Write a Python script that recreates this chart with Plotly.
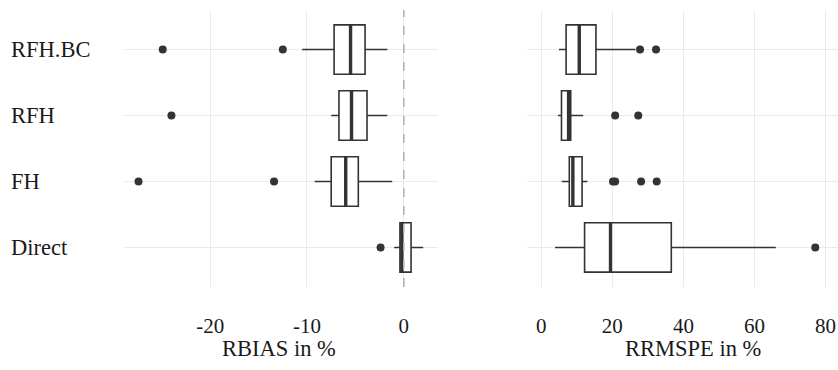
import plotly.graph_objects as go

methods = ["Direct", "FH", "RFH", "RFH.BC"]
positions = [1, 2, 3, 4]

# RBIAS in %
rb_low = [-1.0, -9.2, -7.5, -10.5]
rb_q1 = [-0.4, -7.5, -6.7, -7.2]
rb_med = [-0.2, -6.0, -5.4, -5.5]
rb_q3 = [0.75, -4.7, -3.8, -4.0]
rb_high = [2.0, -1.2, -1.7, -1.7]
rb_out = [[-2.4], [-27.4, -13.4], [-24.0], [-24.9, -12.5]]

# RRMSPE in %
rr_low = [3.9, 5.8, 4.7, 5.0]
rr_q1 = [12.2, 7.9, 5.7, 7.0]
rr_med = [19.5, 8.9, 7.7, 10.7]
rr_q3 = [36.6, 11.5, 8.3, 15.4]
rr_high = [66.0, 13.0, 11.8, 26.5]
rr_out = [[77.1], [20.2, 20.8, 28.1, 32.5], [20.8, 27.3], [27.8, 32.3]]

x_ticks_left = [-20, -10, 0]
x_ticklabels_left = ["-20", "-10", "0"]
x_ticks_right = [0, 20, 40, 60, 80]
x_ticklabels_right = ["0", "20", "40", "60", "80"]

DARK = "#333333"
GRID = "#ebebeb"
FONT = "Liberation Serif, Times New Roman, serif"
FS = 22.5
FS_X = 21
TXT = "#1a1a1a"
W, H = 838, 370
BOXW = 0.75

fig = go.Figure()


def add_panel(xa, ya, low, q1, med, q3, high, outs):
    for p, lo, a, m, b, hi, o in zip(positions, low, q1, med, q3, high, outs):
        fig.add_trace(go.Box(
            y=[p], q1=[a], median=[m], q3=[b], lowerfence=[lo], upperfence=[hi],
            orientation="h", width=BOXW, whiskerwidth=0, fillcolor="white",
            line=dict(color=DARK, width=1.6), boxpoints=False,
            xaxis=xa, yaxis=ya, showlegend=False, hoverinfo="skip"))
        fig.add_trace(go.Scatter(
            x=[m, m], y=[p - BOXW / 2, p + BOXW / 2], mode="lines",
            line=dict(color=DARK, width=3.4), xaxis=xa, yaxis=ya,
            showlegend=False, hoverinfo="skip"))
        fig.add_trace(go.Scatter(
            x=o, y=[p] * len(o), mode="markers",
            marker=dict(color=DARK, size=8), xaxis=xa, yaxis=ya,
            showlegend=False, hoverinfo="skip"))


add_panel("x", "y", rb_low, rb_q1, rb_med, rb_q3, rb_high, rb_out)
add_panel("x2", "y2", rr_low, rr_q1, rr_med, rr_q3, rr_high, rr_out)

ydom = [1 - 287 / H, 1 - 10 / H]
xdom1 = [124 / W, 437.7 / W]
xdom2 = [527 / W, 1.0]

axis_common = dict(showline=False, zeroline=False, gridcolor=GRID, gridwidth=1.1,
                   ticks="outside", ticklen=20, tickcolor="rgba(0,0,0,0)",
                   tickfont=dict(family=FONT, size=FS_X, color=TXT))

fig.update_layout(
    width=W, height=H, margin=dict(l=0, r=0, t=0, b=0),
    paper_bgcolor="white", plot_bgcolor="white",
    xaxis=dict(domain=xdom1, range=[-28.9, 3.5], tickvals=x_ticks_left,
               ticktext=x_ticklabels_left, anchor="y", **axis_common),
    xaxis2=dict(domain=xdom2, range=[-4.0, 83.5], tickvals=x_ticks_right,
                ticktext=x_ticklabels_right, anchor="y2", **axis_common),
    yaxis=dict(domain=ydom, range=[0.4, 4.6], tickvals=positions,
               showticklabels=False, showline=False, zeroline=False,
               gridcolor=GRID, gridwidth=1.1, anchor="x"),
    yaxis2=dict(domain=ydom, range=[0.4, 4.6], tickvals=positions,
                showticklabels=False, showline=False, zeroline=False,
                gridcolor=GRID, gridwidth=1.1, anchor="x2"),
)

fig.add_shape(type="line", xref="x", yref="y domain", x0=0, x1=0, y0=0, y1=1,
              line=dict(color="#b3b3b3", width=1.6, dash="dash"), layer="above")

for name, p in zip(methods, positions):
    fig.add_annotation(text=name, xref="paper", yref="y", x=9 / W, y=p,
                       xanchor="left", yanchor="middle", showarrow=False,
                       font=dict(family=FONT, size=FS, color=TXT))

fig.add_annotation(text="RBIAS in %", xref="paper", yref="paper", x=279 / W,
                   y=1 - 348 / H, xanchor="center", yanchor="middle",
                   showarrow=False, font=dict(family=FONT, size=FS, color=TXT))
fig.add_annotation(text="RRMSPE in %", xref="paper", yref="paper", x=693 / W,
                   y=1 - 348 / H, xanchor="center", yanchor="middle",
                   showarrow=False, font=dict(family=FONT, size=FS, color=TXT))

fig.write_html("out.html")
